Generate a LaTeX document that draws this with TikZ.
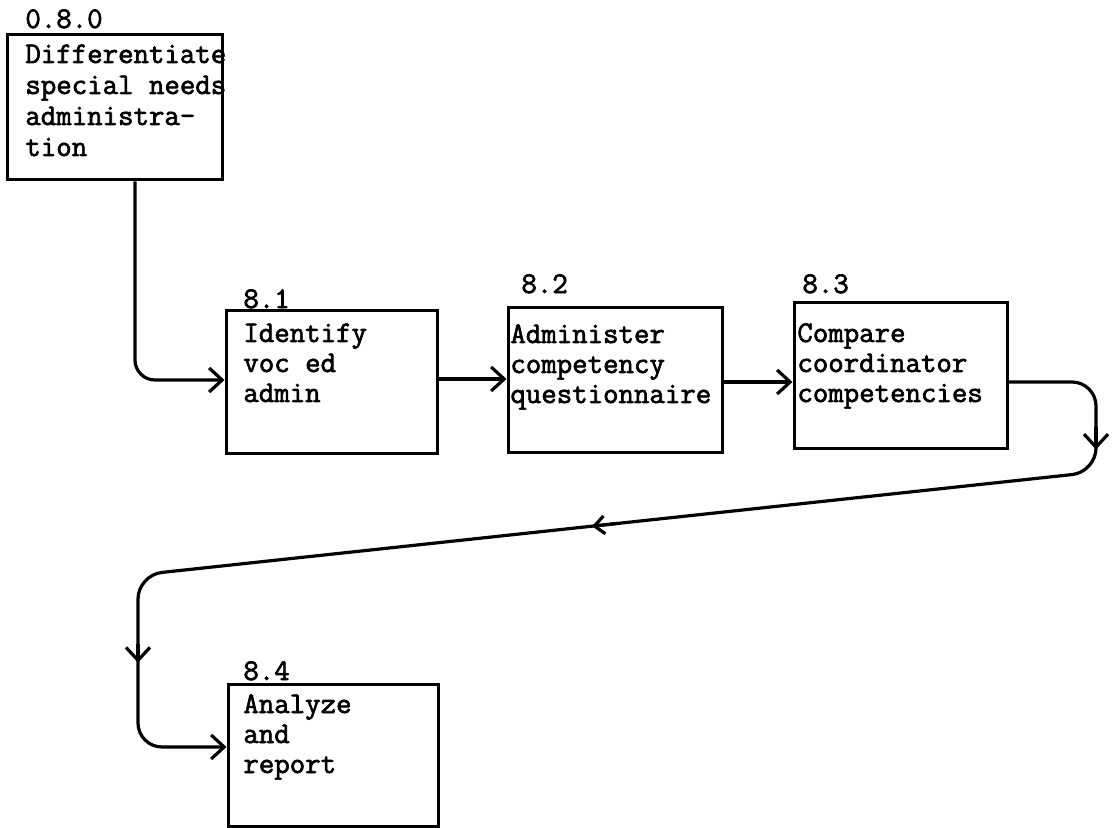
\documentclass[tikz,border=0pt]{standalone}
\usepackage{fontspec}
\newfontfamily\twfont{Latin Modern Mono}[FakeBold=2.2]
\usetikzlibrary{arrows.meta,calc}
\newcommand\boxlines[1]{\begin{tabular}[t]{@{}l@{}}#1\end{tabular}}
\begin{document}
\begin{tikzpicture}[x=0.5pt,y=-0.5pt,
  box/.style={draw,line width=1.5pt,inner sep=0pt},
  txt/.style={inner sep=0pt,anchor=base west,font=\fontsize{15pt}{15pt}\selectfont\twfont},
  conn/.style={line width=1.6pt,-{Straight Barb[length=6.5pt,width=12pt]}},
  smallconn/.style={line width=1.6pt,-{Straight Barb[length=5pt,width=9pt]}}
]
\useasboundingbox (0,0) rectangle (1112,828);

% boxes
\node[box,minimum width=107.5pt,minimum height=72.5pt] (b080) at (114.5,107.5) {};
\node[box,minimum width=105.5pt,minimum height=71pt] (b81) at (331.5,382) {};
\node[box,minimum width=107pt,minimum height=72pt] (b82) at (615,380) {};
\node[box,minimum width=106.5pt,minimum height=72.5pt] (b83) at (900.5,375.5) {};
\node[box,minimum width=105pt,minimum height=71pt] (b84) at (333,755) {};

% numbers
\node[txt] (l080) at (25,28) {0.8.0};
\node[txt] (l81) at (243,308) {8.1};
\node[txt] (l82) at (521,293) {8.2};
\node[txt] (l83) at (802,293) {8.3};
\node[txt] (l84) at (243,680) {8.4};

% texts
\node[txt,font=\fontsize{15pt}{15.5pt}\selectfont\twfont] (t080) at (25,63) {\boxlines{Differentiate\\special needs\\administra-\\tion}};
\node[txt] (t81) at (243,342) {\boxlines{Identify\\voc ed\\admin}};
\node[txt] (t82) at (510,343) {\boxlines{Administer\\competency\\questionnaire}};
\node[txt] (t83) at (797,342) {\boxlines{Compare\\coordinator\\competencies}};
\node[txt] (t84) at (243,713) {\boxlines{Analyze\\and\\report}};

% connectors
\coordinate (k1) at (135,380);
\draw[conn,rounded corners=10pt] (k1 |- b080.south) -- (k1) -- (k1 -| b81.west);
\coordinate (k2) at (470,379);
\draw[conn] (k2 -| b81.east) -- (k2 -| b82.west);
\coordinate (k3) at (760,382);
\draw[conn] (k3 -| b82.east) -- (k3 -| b83.west);

\coordinate (c1) at (1096,382);
\coordinate (c2) at (1096,472);
\coordinate (c3) at (138,575);
\coordinate (c4) at (138,747);
\draw[conn,rounded corners=12pt] (c1 -| b83.east) -- (c1) -- (c2) -- (c3) -- (c4) -- (c4 -| b84.west);
\draw[conn] ($(c1)!0.5!(c2)$) -- ($(c1)!0.75!(c2)$);
\draw[smallconn] ($(c2)!0.5!(c3)$) -- ($(c2)!0.526!(c3)$);
\draw[conn] ($(c3)!0.4!(c4)$) -- ($(c3)!0.51!(c4)$);
\end{tikzpicture}
\end{document}
